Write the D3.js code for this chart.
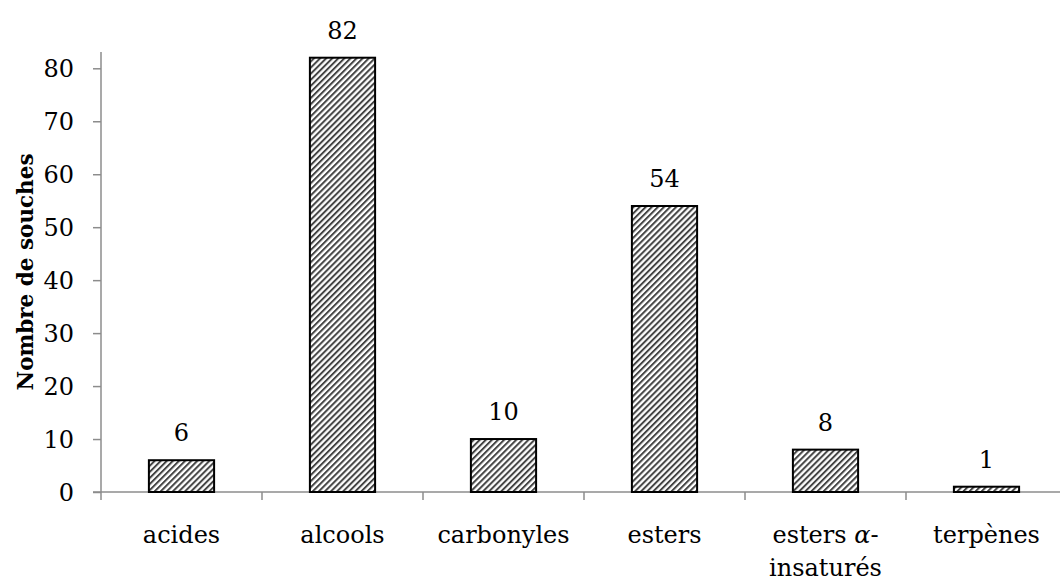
<!DOCTYPE html>
<html>
<head>
<meta charset="utf-8">
<script src="https://cdn.jsdelivr.net/npm/d3@7"></script>
<style>
  body { margin: 0; background: #fff; }
  text { font-family: "DejaVu Serif", serif; fill: #000; }
</style>
</head>
<body>
<svg width="1060" height="585"></svg>
<script>
// categories and counts
var categories = ["acides", "alcools", "carbonyles", "esters", "esters α-insaturés", "terpènes"];
var values = [6, 82, 10, 54, 8, 1];
var yTicks = [0, 10, 20, 30, 40, 50, 60, 70, 80];

var svg = d3.select("svg");

var margin = {left: 101, top: 52, bottom: 492, right: 1067};

var x = d3.scaleBand()
    .domain(categories)
    .range([margin.left, margin.right])
    .paddingInner(0.595)
    .paddingOuter(0.2975);

var y = d3.scaleLinear()
    .domain([0, 80])
    .range([492, 68.3]);

// hatch pattern for the bars
var defs = svg.append("defs");
var pat = defs.append("pattern")
    .attr("id", "hatch")
    .attr("patternUnits", "userSpaceOnUse")
    .attr("width", 4.3)
    .attr("height", 10)
    .attr("patternTransform", "rotate(45)");
pat.append("rect").attr("width", 4.3).attr("height", 10).attr("fill", "#fff");
pat.append("line")
    .attr("x1", 1).attr("y1", 0).attr("x2", 1).attr("y2", 10)
    .attr("stroke", "#444")
    .attr("stroke-width", 2);

// y axis
var yAxis = svg.append("g")
    .attr("transform", "translate(" + margin.left + ",0)")
    .call(d3.axisLeft(y).tickValues(yTicks).tickSize(8).tickPadding(19));
yAxis.select(".domain").remove();
yAxis.append("line")
    .attr("x1", 0).attr("x2", 0)
    .attr("y1", margin.top).attr("y2", 492)
    .attr("stroke", "#8c8c8c").attr("stroke-width", 1.5);
yAxis.selectAll(".tick line").attr("stroke", "#8c8c8c").attr("stroke-width", 1.5);
yAxis.selectAll(".tick text")
    .style("font-size", "24px")
    .attr("fill", "#000")
    .attr("dy", "0.36em");

// x axis: ticks at band boundaries
var step = x.step();
var bounds = d3.range(categories.length + 1).map(function(i) { return margin.left + i * step; });
var xAxis = svg.append("g");
xAxis.append("line")
    .attr("x1", margin.left - 8).attr("x2", 1060)
    .attr("y1", 492).attr("y2", 492)
    .attr("stroke", "#8c8c8c").attr("stroke-width", 1.5);
xAxis.selectAll("line.tk")
    .data(bounds)
    .enter().append("line")
    .attr("class", "tk")
    .attr("x1", function(d) { return d; })
    .attr("x2", function(d) { return d; })
    .attr("y1", 492).attr("y2", 500)
    .attr("stroke", "#8c8c8c").attr("stroke-width", 1.5);

// category labels (with the split one on two lines)
var labels = xAxis.selectAll("text.cat")
    .data(categories)
    .enter().append("text")
    .attr("class", "cat")
    .attr("text-anchor", "middle")
    .style("font-size", "24px")
    .attr("x", function(d) { return x(d) + x.bandwidth() / 2; })
    .attr("y", 543);
labels.each(function(d) {
    var t = d3.select(this);
    if (d === "esters α-insaturés") {
        var l1 = t.append("tspan").attr("x", x(d) + x.bandwidth() / 2);
        l1.append("tspan").text("esters ");
        l1.append("tspan").style("font-style", "italic").text("α");
        l1.append("tspan").text("-");
        t.append("tspan")
            .attr("x", x(d) + x.bandwidth() / 2)
            .attr("dy", 33)
            .text("insaturés");
    } else {
        t.text(d);
    }
});

// bars
var data = categories.map(function(c, i) { return {cat: c, value: values[i]}; });

svg.append("g")
    .selectAll("rect")
    .data(data)
    .enter().append("rect")
    .attr("x", function(d) { return x(d.cat); })
    .attr("y", function(d) { return y(d.value); })
    .attr("width", x.bandwidth())
    .attr("height", function(d) { return y(0) - y(d.value); })
    .attr("fill", "url(#hatch)")
    .attr("stroke", "#000")
    .attr("stroke-width", 2);

// value labels
svg.append("g")
    .selectAll("text")
    .data(data)
    .enter().append("text")
    .attr("text-anchor", "middle")
    .style("font-size", "24px")
    .attr("x", function(d) { return x(d.cat) + x.bandwidth() / 2; })
    .attr("y", function(d) { return y(d.value) - 19; })
    .text(function(d) { return d.value; });

// y axis title
svg.append("text")
    .attr("transform", "translate(33,272) rotate(-90)")
    .attr("text-anchor", "middle")
    .style("font-size", "21.5px")
    .style("font-weight", "bold")
    .text("Nombre de souches");
</script>
</body>
</html>
